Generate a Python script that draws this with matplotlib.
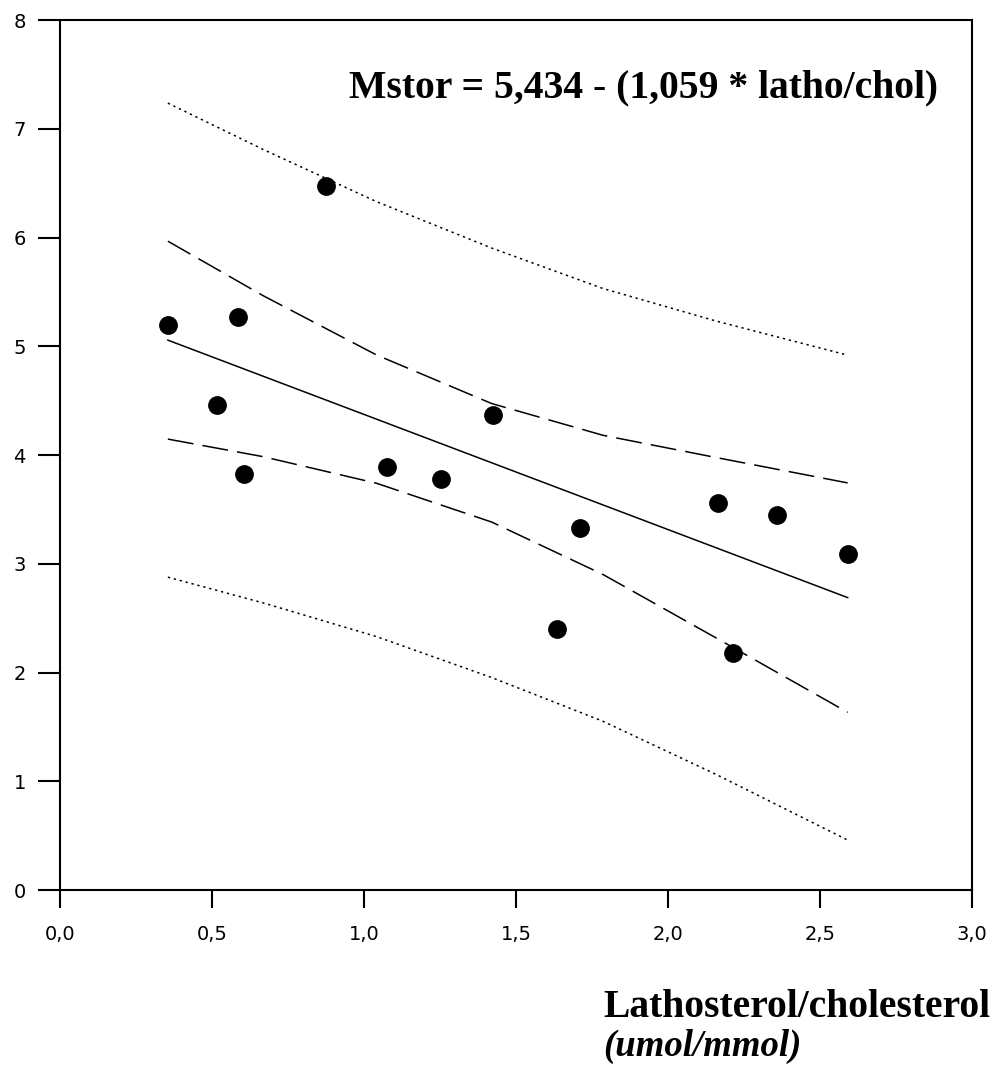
import numpy as np
import matplotlib
matplotlib.use("Agg")
import matplotlib.pyplot as plt

# data
# -----------------------
latho_chol = [0.355, 0.515, 0.587, 0.606, 0.874, 1.075, 1.255, 1.425,
              1.711, 1.636, 2.163, 2.215, 2.360, 2.591]
mstor = [5.20, 4.46, 5.27, 3.83, 6.48, 3.89, 3.78, 4.37,
         3.33, 2.40, 3.56, 2.18, 3.45, 3.09]

# regression coefficients printed on the chart
intercept = 5.434
slope = 1.059

# 95% confidence / prediction bands
band_x = [0.355, 0.669, 1.041, 1.42, 1.786, 2.159, 2.591]
conf_upper = [5.968, 5.466, 4.922, 4.475, 4.183, 3.978, 3.745]
conf_lower = [4.148, 3.986, 3.742, 3.385, 2.903, 2.318, 1.635]
pred_upper = [7.238, 6.811, 6.332, 5.905, 5.533, 5.233, 4.920]
pred_lower = [2.878, 2.641, 2.332, 1.955, 1.553, 1.063, 0.460]

xticks = [0.0, 0.5, 1.0, 1.5, 2.0, 2.5, 3.0]
xticklabels = ["0,0", "0,5", "1,0", "1,5", "2,0", "2,5", "3,0"]
yticks = [0, 1, 2, 3, 4, 5, 6, 7, 8]

x = np.array(latho_chol)
y = np.array(mstor)
xs = np.array([x.min(), x.max()])
fit = intercept - slope * xs

# plot
# ----
fig = plt.figure(figsize=(9.99, 10.66), dpi=100)
ax = fig.add_axes([0.060, 0.165, 0.913, 0.816])

ax.plot(x, y, 'o', color='black', markersize=12.5, zorder=3)
ax.plot(xs, fit, '-', color='black', lw=1.1)
ax.plot(band_x, conf_upper, color='black', lw=1.1, dashes=(17, 6))
ax.plot(band_x, conf_lower, color='black', lw=1.1, dashes=(17, 6))
ax.plot(band_x, pred_upper, color='black', lw=1.1, dashes=(1.5, 2.5))
ax.plot(band_x, pred_lower, color='black', lw=1.1, dashes=(1.5, 2.5))

ax.set_xlim(0, 3)
ax.set_ylim(0, 8)
ax.set_xticks(xticks)
ax.set_xticklabels(xticklabels)
ax.set_yticks(yticks)

for sp in ax.spines.values():
    sp.set_linewidth(1.5)
ax.tick_params(axis='x', direction='out', length=12.7, width=1.5, pad=12.5,
               labelsize=14)
ax.tick_params(axis='y', direction='out', length=15.6, width=1.5, pad=9,
               labelsize=14)

eq = "Mstor = %s - (%s * latho/chol)" % (
    f"{intercept:.3f}".replace('.', ','), f"{slope:.3f}".replace('.', ','))
fig.text(0.644, 0.9174, eq, ha='center', va='center', fontsize=28.5,
         fontweight='bold', family='Liberation Serif')

fig.text(0.6036, 0.046, "Lathosterol/cholesterol", ha='left',
         va='baseline', fontsize=28.5, fontweight='bold',
         family='Liberation Serif')
fig.text(0.6036, 0.0095, "(umol/mmol)", ha='left', va='baseline',
         fontsize=26.5, fontweight='bold', fontstyle='italic',
         family='Liberation Serif')

fig.savefig("out.png", dpi=100)
